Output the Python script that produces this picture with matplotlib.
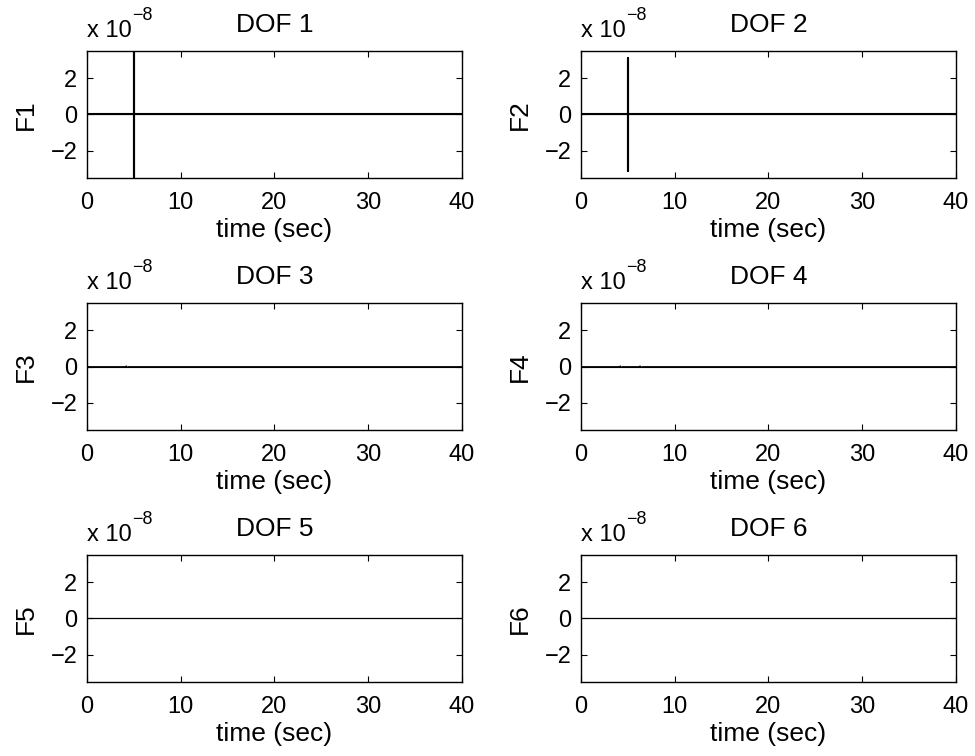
import numpy as np
import matplotlib.pyplot as plt

plt.rcParams['font.family'] = ['Liberation Sans', 'DejaVu Sans']

# time samples (sec) and force response per DOF
t1 = [0, 5.0, 5.0, 5.0, 5.0, 40]
f1 = [0, 0, 9.0e-8, -9.0e-8, 0, 0]
t2 = [0, 5.0, 5.0, 5.0, 5.0, 40]
f2 = [0, 0, 3.1e-8, -3.1e-8, 0, 0]
t3 = [0, 4.1, 4.2, 4.3, 4.4, 40]
f3 = [0, 0, 0.04e-8, -0.04e-8, 0, 0]
t4 = [0, 4.1, 4.2, 4.3, 4.4, 6.2, 6.3, 6.4, 6.5, 40]
f4 = [0, 0, 0.04e-8, -0.04e-8, 0, 0, 0.04e-8, -0.04e-8, 0, 0]
t5 = [0, 40]
f5 = [0, 0]
t6 = [0, 40]
f6 = [0, 0]

series = [(t1, f1), (t2, f2), (t3, f3), (t4, f4), (t5, f5), (t6, f6)]
xticks = [0, 10, 20, 30, 40]
yticks = [-2e-8, 0, 2e-8]
ytick_labels = ['\u22122', '0', '2']

fig = plt.figure(figsize=[9.75, 7.56], dpi=100)
lefts = [0.0892, 0.5959]
bottoms = [0.7646, 0.431, 0.0979]
w, h = 0.3846, 0.168
h_px = h * 756

for i, (t, f) in enumerate(series):
    row, col = divmod(i, 2)
    ax = fig.add_axes([lefts[col], bottoms[row], w, h])
    lw = 1.5 if i < 2 else 0.8
    ax.plot(t, f, color='black', linewidth=lw)
    ax.axhline(0, color='black', linewidth=0.8)
    ax.set_xlim(0, 40)
    ax.set_ylim(-3.5e-8, 3.5e-8)
    ax.set_xticks(xticks)
    ax.set_yticks(yticks)
    ax.set_yticklabels(ytick_labels)
    ax.tick_params(direction='in', top=True, right=True, length=4,
                   labelsize=17, width=0.8)
    ax.tick_params(axis='x', pad=10)
    ax.tick_params(axis='y', pad=7)
    for s in ax.spines.values():
        s.set_linewidth(1.0)
    ax.set_xlabel('time (sec)', fontsize=19, labelpad=3)
    ax.set_ylabel('F%d' % (i + 1), fontsize=19, labelpad=9)
    ax.set_title('DOF %d' % (i + 1), fontsize=19, pad=13.5)
    base = ax.text(0.0, 1 + 14 / h_px, 'x 10', transform=ax.transAxes,
                   fontsize=17, ha='left', va='baseline')
    ax.annotate('\u22128', xy=(1, 1), xycoords=base, xytext=(0.5, -3),
                textcoords='offset points', fontsize=13,
                ha='left', va='bottom')

fig.savefig('out.png', dpi=100)
